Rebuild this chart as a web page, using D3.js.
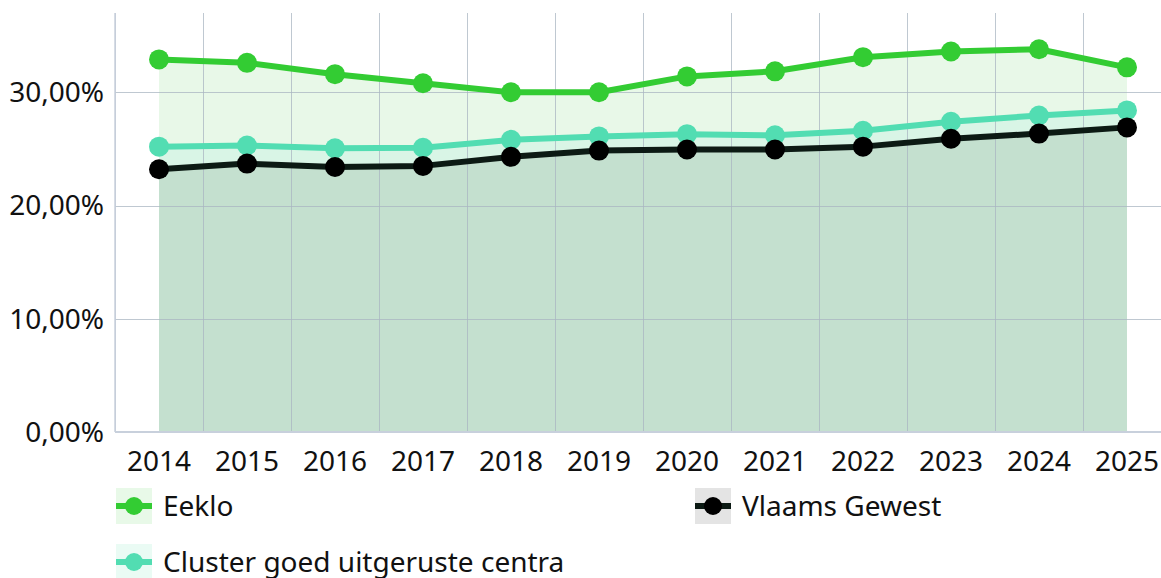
<!DOCTYPE html>
<html>
    <head>
        <meta charset="utf-8">
        <title>Eeklo</title>
        <style>
            body {margin:0; background:#fff;}
            text {font-family:"Noto Sans", sans-serif; fill:#111;}
        </style>
        <script src="https://d3js.org/d3.v7.min.js"></script>
    </head>
    <body>
        <svg id="chart" width="1161" height="578"></svg>
        <script>
            var years = ['2014','2015','2016','2017','2018','2019','2020','2021','2022','2023','2024','2025'];
            var eeklo = [32.9, 32.6, 31.6, 30.8, 30.0, 30.0, 31.4, 31.85, 33.1, 33.6, 33.8, 32.2];
            var cluster = [25.2, 25.3, 25.05, 25.1, 25.8, 26.1, 26.3, 26.2, 26.6, 27.4, 27.95, 28.4];
            var vlaams = [23.2, 23.7, 23.4, 23.5, 24.3, 24.85, 24.95, 24.95, 25.2, 25.9, 26.35, 26.9];
            var yTicks = [0, 10, 20, 30];

            var series = [
                {name:'Eeklo', values:eeklo, line:'#33cc33', dot:'#33cc33', fill:'#e8f8e8', box:'#e8f9e8'},
                {name:'Cluster goed uitgeruste centra', values:cluster, line:'#52ddb2', dot:'#52ddb2', fill:'#d9f5e6', box:'#eafbf4'},
                {name:'Vlaams Gewest', values:vlaams, line:'#0c1a14', dot:'#000', fill:'#c4e0cf', box:'#e4e4e4'}
            ];

            var svg = d3.select('#chart');
            var plotLeft = 115, plotTop = 13, plotBottom = 432;

            var x = d3.scaleBand().domain(years).range([plotLeft, plotLeft + 88 * years.length]);
            var y = d3.scaleLinear().domain([0, 37]).range([plotBottom, plotTop]);
            var cx = function (d, i) { return x(years[i]) + x.bandwidth() / 2; };

            // areas (back to front)
            series.forEach(function (s) {
                var area = d3.area().x(cx).y0(y(0)).y1(function (d) { return y(d); });
                svg.append('path').attr('d', area(s.values)).attr('fill', s.fill);
            });

            // grid
            var grid = svg.append('g').attr('stroke', '#a9b6c2').attr('stroke-opacity', 0.75).attr('stroke-width', 1);
            years.forEach(function (yr) {
                grid.append('line').attr('x1', x(yr) + 0.5).attr('x2', x(yr) + 0.5).attr('y1', plotTop).attr('y2', plotBottom);
            });
            yTicks.slice(1).forEach(function (t) {
                grid.append('line').attr('x1', plotLeft).attr('x2', 1161).attr('y1', Math.round(y(t)) + 0.5).attr('y2', Math.round(y(t)) + 0.5);
            });

            // axes lines
            svg.append('line').attr('x1', plotLeft).attr('x2', 1161).attr('y1', plotBottom).attr('y2', plotBottom)
                .attr('stroke', '#c8d0dc').attr('stroke-width', 2);
            svg.append('line').attr('x1', plotLeft).attr('x2', plotLeft).attr('y1', plotTop).attr('y2', plotBottom)
                .attr('stroke', '#c8d0dc').attr('stroke-width', 1.5);

            // lines + markers
            series.forEach(function (s) {
                var line = d3.line().x(cx).y(function (d) { return y(d); });
                svg.append('path').attr('d', line(s.values)).attr('fill', 'none')
                    .attr('stroke', s.line).attr('stroke-width', 6).attr('stroke-linejoin', 'round');
                svg.append('g').selectAll('circle').data(s.values).join('circle')
                    .attr('cx', cx).attr('cy', function (d) { return y(d); }).attr('r', 10).attr('fill', s.dot);
            });

            // y labels
            var fmt = function (v) { return d3.format('.2f')(v).replace('.', ',') + '%'; };
            svg.append('g').selectAll('text').data(yTicks).join('text')
                .attr('x', 104).attr('y', function (d) { return y(d); }).attr('dy', '0.35em')
                .attr('text-anchor', 'end').attr('font-size', 28).text(fmt);

            // x labels
            svg.append('g').selectAll('text').data(years).join('text')
                .attr('x', function (d, i) { return cx(d, i); }).attr('y', 461).attr('dy', '0.35em')
                .attr('text-anchor', 'middle').attr('font-size', 28).text(function (d) { return d; });

            // legend
            var legendPos = [[116, 506], [116, 562], [695, 506]];
            series.forEach(function (s, i) {
                var g = svg.append('g').attr('transform', 'translate(' + legendPos[i][0] + ',' + legendPos[i][1] + ')');
                g.append('rect').attr('x', 0).attr('y', -18).attr('width', 36).attr('height', 36).attr('fill', s.box);
                g.append('line').attr('x1', 0).attr('x2', 36).attr('y1', 0).attr('y2', 0).attr('stroke', s.line).attr('stroke-width', 6);
                g.append('circle').attr('cx', 18).attr('cy', 0).attr('r', 9).attr('fill', s.dot);
                g.append('text').attr('x', 47).attr('y', 0).attr('dy', '0.35em').attr('font-size', 28).text(s.name);
            });
        </script>
    </body>
</html>
